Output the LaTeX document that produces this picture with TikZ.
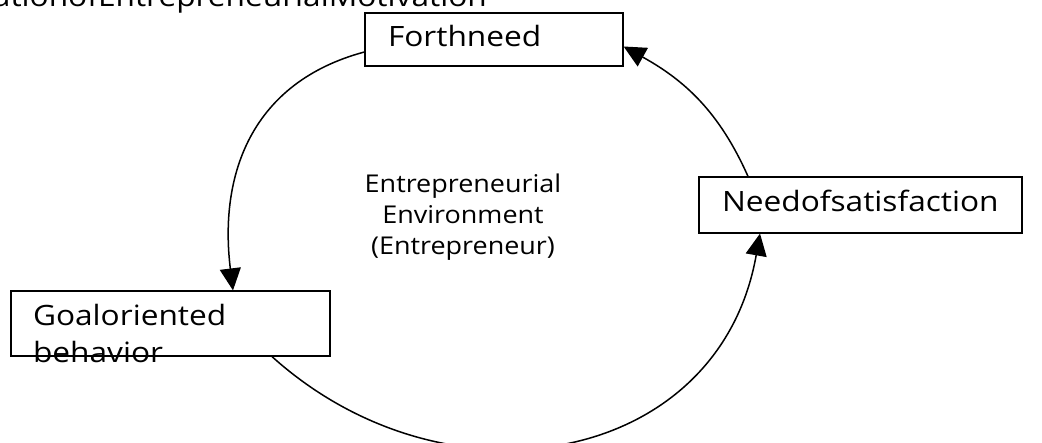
\documentclass[tikz,border=0pt]{standalone}
\usepackage{fontspec}
\setmainfont{Open Sans}
\newfontfamily\boxfont[FakeStretch=1.13]{Open Sans}
\newfontfamily\midfont[FakeStretch=1.1]{Open Sans}
\usetikzlibrary{arrows.meta}

\tikzstyle{box}=[draw, line width=1.2pt, rectangle, inner xsep=23pt, inner ysep=0pt, align=left, text height=21pt, text depth=7pt, font=\boxfont\fontsize{28}{37}\selectfont]
\tikzstyle{arrow}=[line width=1.5pt, -{Triangle[length=22pt, width=21pt]}]

\begin{document}
\begin{tikzpicture}[x=1pt, y=1pt]
    \clip (0,0) rectangle (1042,-443);

    \node[anchor=base east, inner sep=0pt, font=\boxfont\fontsize{28}{34}\selectfont] (title) at (487,-7) {rationofEntrepreneurialMotivation};

    \node[box, text width=212pt, minimum height=53pt] (forth) at (494,-39.5) {\mbox{Forthneed}};
    \node[box, text width=277pt, minimum height=56pt] (need) at (860.5,-205) {\mbox{Needofsatisfaction}};
    \node[box, inner xsep=22pt, text height=5pt, text depth=0pt, minimum width=319pt, minimum height=65pt] (goal) at (170.5,-323.5) {\smash{\parbox[t]{275pt}{Goaloriented\\behavior}}};

    \node[align=center, font=\midfont\fontsize{24.5}{31}\selectfont] (env) at (463,-217) {Entrepreneurial\\Environment\\(Entrepreneur)};

    \draw[arrow] ([yshift=-12.5pt]forth.west) to[out=195, in=97, looseness=1.1] ([xshift=62.5pt]goal.north);
    \draw[arrow] ([xshift=101.5pt]goal.south) to[out=-42, in=-100, looseness=1.2] ([xshift=-100.5pt]need.south);
    \draw[arrow] ([xshift=-112.5pt]need.north) to[out=114, in=-29, looseness=1] ([yshift=-7pt]forth.east);
\end{tikzpicture}
\end{document}
